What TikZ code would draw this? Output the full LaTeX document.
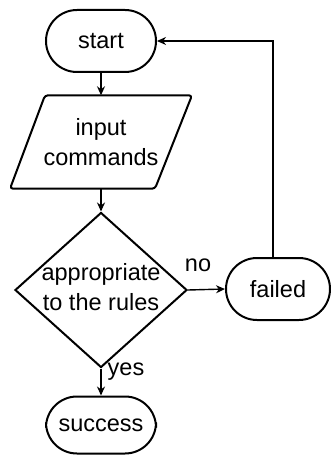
\documentclass[tikz,border=0pt]{standalone}
\usepackage{fontspec}
\setmainfont{Liberation Sans}
\usetikzlibrary{shapes.geometric,arrows.meta}
\begin{document}
\begin{tikzpicture}[x=1pt,y=-1pt,
  every node/.style={font=\fontsize{23.5}{30}\selectfont},
  term/.style={draw,line width=2pt,rounded corners=31pt,minimum width=110pt,minimum height=62pt,inner sep=0pt},
  shapeline/.style={draw,line width=2pt,line join=round},
  decision/.style={draw,diamond,line width=2pt,minimum width=172pt,minimum height=155pt,inner sep=0pt},
  arr/.style={line width=1.4pt,-{Stealth[length=9pt,width=8pt]}},
  lbl/.style={inner sep=0pt}]
\useasboundingbox (0,0) rectangle (331,457);
\node[term] (start) at (101,41) {start};
\node[align=center,inner sep=0pt,minimum height=93pt] (inp) at (101,142) {input\\commands};
\draw[shapeline,rounded corners=3pt] ([xshift=-56pt]inp.north) -- ([xshift=91pt]inp.north) -- ([xshift=54pt]inp.south) -- ([xshift=-91pt]inp.south) -- cycle;
\node[decision] (dec) at (101,290) {};
\node[align=center,inner sep=0pt] (dectext) at (101,287) {appropriate\\to the rules};
\node[term,minimum width=104pt] (failed) at (278,289) {failed};
\node[term,minimum height=57pt] (success) at (101,425) {success};
\draw[arr] (start) -- (inp);
\draw[arr] (inp) -- (dec);
\draw[arr] (dec.east) -- (failed.west);
\draw[arr] (dec.south) -- (success.north);
\draw[arr] ([xshift=-5pt]failed.north) |- (start.east);
\node[lbl] (no) at (198,265) {no};
\node[lbl] (yes) at (126,372) {yes};
\end{tikzpicture}
\end{document}
